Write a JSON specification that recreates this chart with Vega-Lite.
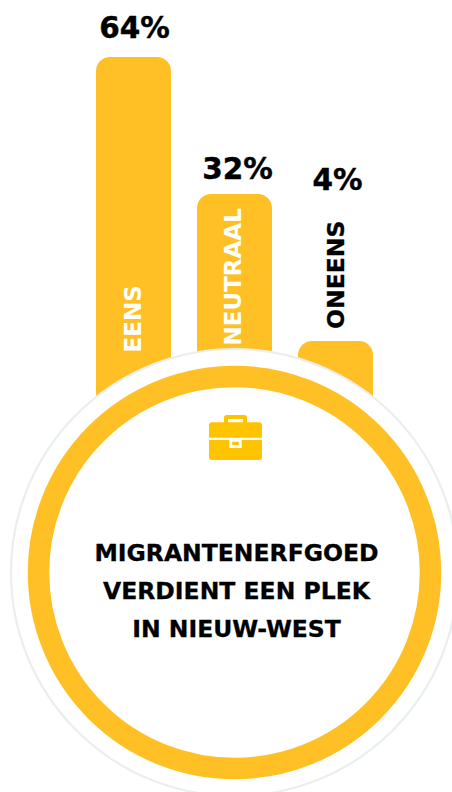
{
"$schema":"https://vega.github.io/schema/vega-lite/v6.json",
"width":452,"height":792,"padding":0,"autosize":"none","background":"#ffffff",
"config":{"view":{"stroke":null},"axis":{"domain":false,"ticks":false,"labels":false,"grid":false,"title":null},"text":{"font":"DejaVu Sans","fontWeight":"bold"}},
"datasets":{
"answers":[{"answer":"EENS","value":64,"pct":"64%"},{"answer":"NEUTRAAL","value":32,"pct":"32%"},{"answer":"ONEENS","value":4,"pct":"4%"}],
"title":[{"line":"MIGRANTENERFGOED"},{"line":"VERDIENT EEN PLEK"},{"line":"IN NIEUW-WEST"}],
"badge":[{"answer":"NEUTRAAL","part":"centre"}]
},
"encoding":{"x":{"field":"answer","type":"nominal","axis":null,"scale":{"type":"band","domain":["EENS","NEUTRAAL","ONEENS"],"range":[96,373],"paddingInner":0.2574,"paddingOuter":0}}},
"layer":[
{"data":{"name":"answers"},"mark":{"type":"bar","color":"#FEC024","cornerRadiusTopLeft":14,"cornerRadiusTopRight":14},
 "encoding":{"y":{"field":"value","type":"quantitative","axis":null,"scale":{"type":"linear","domain":[0,4,32,64],"range":[450,341,194,57],"nice":false,"zero":false}},"y2":{"datum":0}}},
{"data":{"name":"badge"},"mark":{"type":"point","filled":true,"fill":"#ffffff","stroke":"#E9EEEE","strokeWidth":2.2,"opacity":1,"size":199809},
 "encoding":{"y":{"field":"part","type":"nominal","axis":null,"scale":{"type":"point","domain":["centre"],"range":[572.5,572.5]}}}},
{"data":{"name":"badge"},"mark":{"type":"point","filled":true,"fill":"#ffffff","stroke":"#FEC024","strokeWidth":21.5,"opacity":1,"size":153664},
 "encoding":{"y":{"field":"part","type":"nominal","axis":null,"scale":{"type":"point","domain":["centre"],"range":[572.5,572.5]}}}},
{"data":{"name":"badge"},"mark":{"type":"point","filled":true,"fill":"#FFC300","strokeWidth":0,"opacity":1,"size":2809,"xOffset":1,
  "shape":"M-1,0.01 V-0.46 Q-1,-0.574 -0.887,-0.574 H0.887 Q1,-0.574 1,-0.46 V0.01 Z M-0.434,-0.574 V-0.75 Q-0.434,-0.849 -0.33,-0.849 H0.33 Q0.434,-0.849 0.434,-0.75 V-0.574 H0.283 V-0.698 H-0.283 V-0.574 Z M-1,0.094 H-0.234 V0.396 H0.234 V0.094 H1 V0.736 Q1,0.849 0.887,0.849 H-0.887 Q-1,0.849 -1,0.736 Z M-0.125,0.158 H0.125 V0.283 H-0.125 Z"},
 "encoding":{"y":{"field":"part","type":"nominal","axis":null,"scale":{"type":"point","domain":["centre"],"range":[437.5,437.5]}}}},
{"data":{"name":"title"},"mark":{"type":"text","fontSize":23.5,"fontWeight":"bold","color":"#000000","stroke":"#000000","strokeWidth":0.3,"align":"center","baseline":"middle","dx":2},
 "encoding":{"x":{"datum":"NEUTRAAL"},"y":{"field":"line","type":"nominal","axis":null,"scale":{"type":"point","domain":["MIGRANTENERFGOED","VERDIENT EEN PLEK","IN NIEUW-WEST"],"range":[554,630],"padding":0}},"text":{"field":"line"}}},
{"data":{"name":"answers"},"transform":[{"filter":"datum.value==64"}],"mark":{"type":"text","fontSize":29.5,"color":"#000000","stroke":"#000000","strokeWidth":0.4,"align":"center","baseline":"middle","dx":1,"dy":-28},
 "encoding":{"y":{"field":"value","type":"quantitative","axis":null,"scale":{"type":"linear","domain":[0,4,32,64],"range":[450,341,194,57],"nice":false,"zero":false}},"text":{"field":"pct"}}},
{"data":{"name":"answers"},"transform":[{"filter":"datum.value==32"}],"mark":{"type":"text","fontSize":29.5,"color":"#000000","stroke":"#000000","strokeWidth":0.4,"align":"center","baseline":"middle","dx":3,"dy":-24},
 "encoding":{"y":{"field":"value","type":"quantitative","axis":null,"scale":{"type":"linear","domain":[0,4,32,64],"range":[450,341,194,57],"nice":false,"zero":false}},"text":{"field":"pct"}}},
{"data":{"name":"answers"},"transform":[{"filter":"datum.value==4"}],"mark":{"type":"text","fontSize":29.5,"color":"#000000","stroke":"#000000","strokeWidth":0.4,"align":"center","baseline":"middle","dx":2,"dy":-160},
 "encoding":{"y":{"field":"value","type":"quantitative","axis":null,"scale":{"type":"linear","domain":[0,4,32,64],"range":[450,341,194,57],"nice":false,"zero":false}},"text":{"field":"pct"}}},
{"data":{"name":"answers"},"transform":[{"filter":"datum.value==64"}],"mark":{"type":"text","fontSize":23,"color":"#ffffff","angle":270,"align":"left","baseline":"middle","dx":-295.5,"dy":0},
 "encoding":{"y":{"field":"value","type":"quantitative","axis":null,"scale":{"type":"linear","domain":[0,4,32,64],"range":[450,341,194,57],"nice":false,"zero":false}},"text":{"field":"answer"}}},
{"data":{"name":"answers"},"transform":[{"filter":"datum.value==32"}],"mark":{"type":"text","fontSize":23,"color":"#ffffff","angle":270,"align":"left","baseline":"middle","dx":-151.5,"dy":-1},
 "encoding":{"y":{"field":"value","type":"quantitative","axis":null,"scale":{"type":"linear","domain":[0,4,32,64],"range":[450,341,194,57],"nice":false,"zero":false}},"text":{"field":"answer"}}},
{"data":{"name":"answers"},"transform":[{"filter":"datum.value==4"}],"mark":{"type":"text","fontSize":23.5,"color":"#000000","stroke":"#000000","strokeWidth":0.3,"angle":270,"align":"left","baseline":"middle","dx":12,"dy":1.5},
 "encoding":{"y":{"field":"value","type":"quantitative","axis":null,"scale":{"type":"linear","domain":[0,4,32,64],"range":[450,341,194,57],"nice":false,"zero":false}},"text":{"field":"answer"}}}
],
"resolve":{"scale":{"y":"independent"}}
}
